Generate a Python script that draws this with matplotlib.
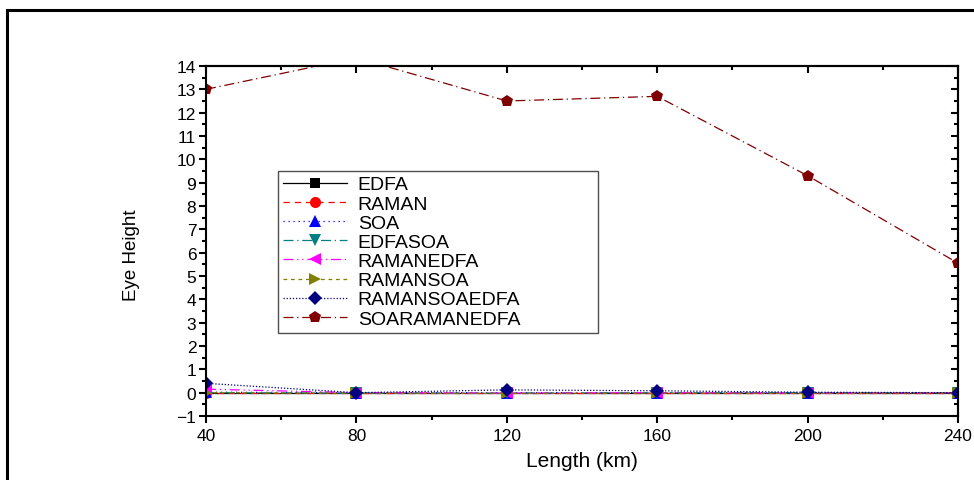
import matplotlib
matplotlib.use("Agg")
import matplotlib.pyplot as plt
from matplotlib.patches import Rectangle
from matplotlib.ticker import MultipleLocator
from matplotlib import font_manager

plt.rcParams['font.family'] = ['Liberation Sans', 'DejaVu Sans']

length_km = [40, 80, 120, 160, 200, 240]
edfa = [0.0, 0.0, 0.0, 0.0, 0.0, 0.0]
raman = [0.0, 0.0, 0.0, 0.0, 0.0, 0.0]
soa = [0.02, 0.0, 0.0, 0.0, 0.0, 0.0]
edfasoa = [0.0, -0.02, -0.02, 0.0, 0.0, 0.0]
ramanedfa = [0.15, 0.0, -0.02, 0.0, -0.02, 0.0]
ramansoa = [0.0, -0.02, -0.03, -0.02, -0.03, 0.0]
ramansoaedfa = [0.4, 0.0, 0.12, 0.08, 0.02, 0.0]
soaramanedfa = [13.0, 14.35, 12.5, 12.7, 9.3, 5.55]

series_names = ["EDFA", "RAMAN", "SOA", "EDFASOA", "RAMANEDFA", "RAMANSOA",
                "RAMANSOAEDFA", "SOARAMANEDFA"]
series_values = [edfa, raman, soa, edfasoa, ramanedfa, ramansoa, ramansoaedfa, soaramanedfa]
colors = ["#000000", "#ff0000", "#0000ff", "#008080", "#ff00ff", "#808000", "#000080", "#800000"]
markers = ["s", "o", "^", "v", "<", ">", "D", "p"]
linestyles = ["-", (0, (5, 4)), (0, (1, 3)), (0, (8, 3, 1, 3)), (0, (8, 3, 1, 3, 1, 3)),
              (0, (3, 3)), (0, (1, 1.5)), (0, (8, 3, 1, 3))]
msizes = [7, 8, 8, 8, 8, 8, 7, 9]

fig = plt.figure(figsize=(9.74, 4.81), dpi=100)
ax = fig.add_axes([206/974, 1-417/481, (958-206)/974, (417-67)/481])

for name, vals, c, m, ls, ms in zip(series_names, series_values, colors, markers, linestyles, msizes):
    ax.plot(length_km, vals, color=c, marker=m, linestyle=ls, linewidth=0.9,
            markersize=ms, markeredgewidth=0, label=name)

ax.set_xlim(40, 240)
ax.set_ylim(-1, 14)
ax.xaxis.set_major_locator(MultipleLocator(40))
ax.xaxis.set_minor_locator(MultipleLocator(20))
ax.yaxis.set_major_locator(MultipleLocator(1))
ax.yaxis.set_minor_locator(MultipleLocator(0.5))
ax.tick_params(axis='both', which='both', direction='out', width=1.5, labelsize=12.5)
ax.tick_params(which='major', length=5)
ax.tick_params(which='minor', length=3)
ax.tick_params(axis='y', pad=2)
for s in ax.spines.values():
    s.set_linewidth(1.5)

# mirrored inward ticks on top and right
axt = ax.secondary_xaxis('top')
axt.xaxis.set_major_locator(MultipleLocator(40))
axt.xaxis.set_minor_locator(MultipleLocator(20))
axt.tick_params(which='both', direction='in', width=1.5, labeltop=False)
axt.tick_params(which='major', length=5)
axt.tick_params(which='minor', length=3)
axr = ax.secondary_yaxis('right')
axr.yaxis.set_major_locator(MultipleLocator(1))
axr.yaxis.set_minor_locator(MultipleLocator(0.5))
axr.tick_params(which='both', direction='in', width=1.5, labelright=False)
axr.tick_params(which='major', length=5)
axr.tick_params(which='minor', length=3)
axt.spines['top'].set_linewidth(1.5)
axr.spines['right'].set_linewidth(1.5)

ax.set_xlabel("Length (km)", fontsize=15)
ax.xaxis.set_label_coords((582-206)/752, -(452-417)/350)
try:
    font_manager.findfont('Liberation Sans Narrow', fallback_to_default=False)
    yfam = ['Liberation Sans Narrow', 'DejaVu Sans']
except Exception:
    yfam = ['Liberation Sans', 'DejaVu Sans']
ax.set_ylabel("Eye Height", fontsize=13.5, family=yfam)
ax.yaxis.set_label_coords(-(206-140)/752, (417-255)/350)

leg = ax.legend(loc='upper left',
                bbox_to_anchor=((278-206)/752, (417-332)/350, (598-278)/752, (332-172)/350),
                mode='expand', fontsize=14, frameon=True, fancybox=False, edgecolor='#222222',
                borderpad=0.25, labelspacing=0.08, handlelength=3.3, handletextpad=0.55,
                borderaxespad=0)
leg.get_frame().set_linewidth(1.0)

fig.patches.append(Rectangle((7/974, -0.2), 1.2, 1.2 - 10.5/481, transform=fig.transFigure,
                             fill=False, edgecolor='black', linewidth=2.2, clip_on=False))

fig.savefig("out.png", dpi=100)
